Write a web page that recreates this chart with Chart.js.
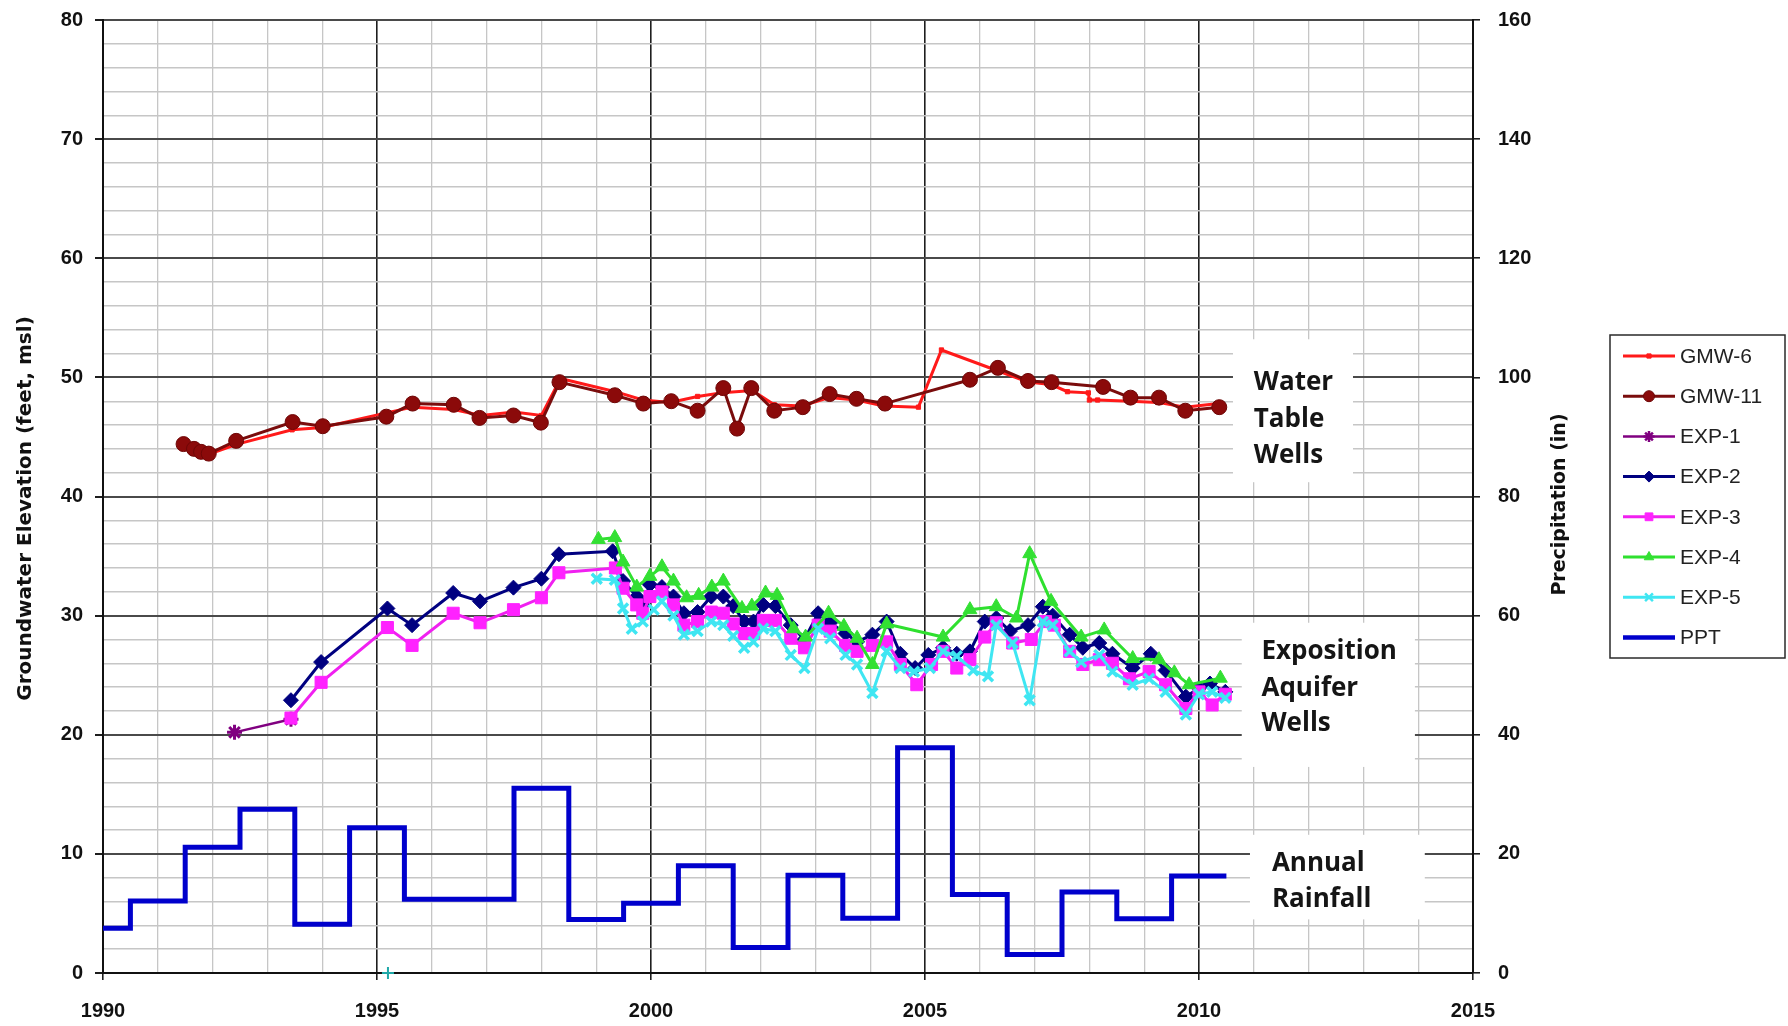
<!DOCTYPE html>
<html>
<head>
<meta charset="utf-8">
<script src="https://cdn.jsdelivr.net/npm/chart.js@4.4.1/dist/chart.umd.min.js"></script>
<style>
html,body{margin:0;padding:0;background:#ffffff;}
#wrap{width:1788px;height:1026px;position:relative;}
canvas{display:block;}
</style>
</head>
<body>
<div id="wrap"><canvas id="c" width="1788" height="1026"></canvas></div>
<script>
// ---------- DATA ----------
const gmw6Years = [1991.45,1991.7,1991.9,1992.45,1993.45,1994.0,1995.15,1995.65,1996.4,1996.9,1997.5,1998.0,1998.35,1999.35,1999.85,2000.35,2000.85,2001.3,2001.85,2002.25,2002.75,2003.25,2003.75,2004.25,2004.88,2005.3,2006.3,2006.88,2007.3,2007.6,2007.98,2008.0,2008.15,2008.75,2009.25,2009.75,2010.35];
const gmw6Levels = [44.2,43.9,43.5,44.4,45.6,45.8,47.0,47.5,47.3,46.8,47.1,46.8,49.9,48.8,48.1,47.9,48.4,48.7,48.9,47.7,47.6,48.3,48.1,47.6,47.5,52.3,50.6,49.6,49.4,48.8,48.7,48.1,48.1,48.0,47.9,47.5,47.8];

const gmw11Years = [1991.47,1991.66,1991.79,1991.93,1992.43,1993.46,1994.01,1995.17,1995.65,1996.4,1996.87,1997.49,1997.99,1998.33,1999.34,1999.86,2000.37,2000.85,2001.32,2001.57,2001.83,2002.25,2002.77,2003.26,2003.75,2004.27,2005.82,2006.33,2006.88,2007.31,2008.25,2008.75,2009.27,2009.75,2010.37];
const gmw11Levels = [44.4,44.0,43.75,43.6,44.67,46.25,45.9,46.7,47.8,47.7,46.6,46.8,46.2,49.6,48.5,47.8,48.0,47.2,49.1,45.7,49.1,47.2,47.5,48.6,48.2,47.8,49.8,50.8,49.7,49.6,49.2,48.3,48.3,47.2,47.5];

const exp1Years = [1992.4,1993.43];
const exp1Levels = [20.2,21.3];

const exp2Years = [1993.43,1993.98,1995.19,1995.64,1996.39,1996.88,1997.49,1998.0,1998.32,1999.3,1999.49,1999.74,1999.85,1999.98,2000.2,2000.41,2000.6,2000.85,2001.1,2001.32,2001.5,2001.7,2001.87,2002.05,2002.27,2002.55,2002.8,2003.05,2003.27,2003.55,2003.76,2004.04,2004.3,2004.55,2004.82,2005.06,2005.33,2005.58,2005.82,2006.09,2006.3,2006.55,2006.88,2007.15,2007.33,2007.64,2007.88,2008.18,2008.42,2008.79,2009.12,2009.39,2009.76,2010.0,2010.2,2010.48];
const exp2Levels = [22.9,26.1,30.6,29.2,31.9,31.2,32.35,33.1,35.15,35.4,32.9,31.6,30.9,32.6,32.4,31.6,30.2,30.3,31.6,31.6,30.8,29.5,29.5,30.9,30.8,29.2,28.0,30.2,29.4,28.5,27.8,28.4,29.5,26.8,25.6,26.7,27.3,26.8,27.0,29.5,29.8,28.7,29.2,30.75,30.0,28.4,27.3,27.7,26.8,25.6,26.8,25.4,23.2,23.9,24.3,23.6];

const exp3Years = [1993.43,1993.98,1995.19,1995.64,1996.39,1996.88,1997.49,1998.0,1998.32,1999.35,1999.49,1999.74,1999.85,1999.98,2000.2,2000.41,2000.6,2000.85,2001.1,2001.32,2001.5,2001.7,2001.87,2002.05,2002.27,2002.55,2002.8,2003.05,2003.27,2003.55,2003.76,2004.04,2004.3,2004.55,2004.85,2005.12,2005.33,2005.58,2005.82,2006.09,2006.3,2006.6,2006.94,2007.2,2007.36,2007.64,2007.88,2008.18,2008.42,2008.73,2009.09,2009.39,2009.76,2010.0,2010.24,2010.48];
const exp3Levels = [21.4,24.4,29.0,27.5,30.2,29.4,30.5,31.5,33.6,34.0,32.3,30.9,30.2,31.6,32.0,30.9,29.2,29.5,30.3,30.2,29.3,28.5,28.5,29.6,29.6,28.1,27.3,29.2,28.7,27.5,27.0,27.5,27.8,25.9,24.2,25.9,27.0,25.6,26.3,28.2,29.4,27.7,28.0,29.5,29.2,27.0,25.9,26.3,26.0,24.7,25.3,24.2,22.2,23.6,22.5,23.4];

const exp4Years = [1999.04,1999.34,1999.49,1999.74,1999.98,2000.2,2000.41,2000.65,2000.87,2001.11,2001.32,2001.66,2001.84,2002.09,2002.3,2002.6,2002.82,2003.24,2003.52,2003.76,2004.04,2004.3,2005.33,2005.82,2006.3,2006.67,2006.91,2007.3,2007.85,2008.27,2008.79,2009.27,2009.55,2009.82,2010.39];
const exp4Levels = [36.4,36.55,34.5,32.4,33.3,34.1,32.9,31.5,31.7,32.4,32.9,30.6,30.8,31.9,31.7,28.9,28.2,30.2,29.1,28.1,25.9,29.3,28.2,30.5,30.75,29.8,35.2,31.2,28.2,28.8,26.4,26.3,25.2,24.2,24.75];

const exp5Years = [1999.01,1999.34,1999.49,1999.65,1999.85,2000.05,2000.2,2000.41,2000.6,2000.85,2001.1,2001.32,2001.5,2001.7,2001.87,2002.05,2002.27,2002.55,2002.8,2003.05,2003.27,2003.55,2003.76,2004.04,2004.3,2004.55,2004.8,2005.09,2005.33,2005.58,2005.88,2006.15,2006.3,2006.6,2006.91,2007.15,2007.33,2007.64,2007.85,2008.18,2008.42,2008.79,2009.09,2009.39,2009.76,2010.0,2010.24,2010.48];
const exp5Levels = [33.1,33.0,30.6,28.9,29.5,30.5,31.2,30.0,28.4,28.7,29.5,29.2,28.3,27.3,27.8,28.9,28.7,26.7,25.6,28.9,28.1,26.7,25.9,23.5,27.0,25.6,25.3,25.6,27.0,26.6,25.4,24.9,29.2,27.7,22.9,29.5,29.2,27.0,26.1,26.7,25.3,24.2,24.7,23.6,21.7,23.4,23.6,23.1];

const strayYears = [1995.2];
const strayLevels = [0];

const pptYears = [1990,1991,1992,1993,1994,1995,1996,1997,1998,1999,2000,2001,2002,2003,2004,2005,2006,2007,2008,2009,2010];
const pptInches = [7.5,12.1,21.1,27.5,8.2,24.4,12.4,12.4,31.0,9.0,11.7,18.0,4.3,16.4,9.2,37.8,13.2,3.1,13.6,9.1,16.3];

const xTickLabels = [1990,1995,2000,2005,2010,2015];
const leftTickLabels = [0,10,20,30,40,50,60,70,80];
const rightTickLabels = [0,20,40,60,80,100,120,140,160];

const leftTitle = 'Groundwater Elevation (feet, msl)';
const rightTitle = 'Precipitation (in)';
const noteTexts = [['Water','Table','Wells'],['Exposition','Aquifer','Wells'],['Annual','Rainfall']];

// ---------- BUILD ----------
function pts(xs, ys){ return xs.map((x,i)=>({x:x, y:ys[i]})); }
const pptPoints = pts(pptYears, pptInches);
pptPoints.push({x: pptYears[pptYears.length-1] + 0.5, y: pptInches[pptInches.length-1]});

const TICK_FONT = {family:'"Liberation Sans", Arial, sans-serif', size:20, weight:'bold'};

function series(label, xs, ys, o){
  return Object.assign({
    label: label, data: pts(xs, ys), yAxisID:'y', tension:0, fill:false,
    showLine:true, pointHoverRadius:0
  }, o);
}

const datasets = [
  series('GMW-6', gmw6Years, gmw6Levels, {borderColor:'#ff1a1a', borderWidth:3, pointStyle:'rect', pointRadius:3, pointBackgroundColor:'#ff1a1a', pointBorderColor:'#ff1a1a', pointBorderWidth:1}),
  series('GMW-11', gmw11Years, gmw11Levels, {borderColor:'#7a0c0c', borderWidth:3, pointStyle:'circle', pointRadius:7.5, pointBackgroundColor:'#8b0a0a', pointBorderColor:'#6e0606', pointBorderWidth:1}),
  series('EXP-1', exp1Years, exp1Levels, {borderColor:'#800080', borderWidth:2.5, pointStyle:'star', pointRadius:7.5, pointBackgroundColor:'#800080', pointBorderColor:'#800080', pointBorderWidth:3}),
  series('EXP-2', exp2Years, exp2Levels, {borderColor:'#000080', borderWidth:3, pointStyle:'rectRot', pointRadius:7.5, pointBackgroundColor:'#000080', pointBorderColor:'#000080', pointBorderWidth:1}),
  series('EXP-3', exp3Years, exp3Levels, {borderColor:'#f020f0', borderWidth:3, pointStyle:'rect', pointRadius:8.5, pointBackgroundColor:'#ff22ff', pointBorderColor:'#ff22ff', pointBorderWidth:1}),
  series('EXP-4', exp4Years, exp4Levels, {borderColor:'#2fe02f', borderWidth:3, pointStyle:'triangle', pointRadius:8, pointBackgroundColor:'#33e033', pointBorderColor:'#33e033', pointBorderWidth:1}),
  series('EXP-5', exp5Years, exp5Levels, {borderColor:'#3fe6f2', borderWidth:3, pointStyle:'crossRot', pointRadius:7, pointBackgroundColor:'#3fe6f2', pointBorderColor:'#3fe6f2', pointBorderWidth:3.5}),
  {label:'PPT', data: pptPoints, yAxisID:'y2', showLine:true, stepped:'middle', borderColor:'#0000cc', borderWidth:5, pointRadius:0, pointHoverRadius:0, fill:false},
  {label:'', data: pts(strayYears, strayLevels), yAxisID:'y', showLine:false, clip:false, pointStyle:'cross', pointRadius:6, pointBorderColor:'#1fa8a8', pointBackgroundColor:'#1fa8a8', pointBorderWidth:2, legendSkip:true}
];
datasets.forEach((d,i)=>{ d.order = datasets.length - i; });

function drawMarker(ctx, style, r, x, y, bw){
  if (Chart.helpers && Chart.helpers.drawPoint){
    Chart.helpers.drawPoint(ctx, {pointStyle:style, radius:r, rotation:0, borderWidth:bw}, x, y);
  } else {
    ctx.beginPath(); ctx.arc(x,y,r,0,Math.PI*2); ctx.fill(); if(bw>0) ctx.stroke();
  }
}

// white note boxes + texts, drawn over the grid but under the data
const notesPlugin = {
  id:'notes',
  beforeDatasetsDraw(chart){
    const xs = chart.scales.x, ys = chart.scales.y, ctx = chart.ctx;
    const layout = [
      {box:[2010.62,53.2,2012.81,41.2], tx:2011.0, ty:[49.55,46.45,43.45]},
      {box:[2010.78,29.4,2013.94,17.3], tx:2011.14, ty:[26.95,23.85,20.9]},
      {box:[2010.93,11.6,2014.12,4.5], tx:2011.33, ty:[9.2,6.2]}
    ];
    ctx.save();
    layout.forEach((n, k)=>{
      const x0 = xs.getPixelForValue(n.box[0]), x1 = xs.getPixelForValue(n.box[2]);
      const y0 = ys.getPixelForValue(n.box[1]), y1 = ys.getPixelForValue(n.box[3]);
      ctx.fillStyle = '#ffffff';
      ctx.fillRect(x0, y0, x1-x0, y1-y0);
      ctx.fillStyle = '#151515';
      ctx.font = 'bold 26px "Open Sans", "DejaVu Sans", sans-serif';
      ctx.textAlign = 'left';
      ctx.textBaseline = 'middle';
      noteTexts[k].forEach((t, j)=>{
        ctx.fillText(t, xs.getPixelForValue(n.tx), ys.getPixelForValue(n.ty[j]));
      });
    });
    ctx.restore();
  }
};

// axis titles (both read bottom-to-top) and the boxed legend
const decorPlugin = {
  id:'decor',
  afterDraw(chart){
    const ctx = chart.ctx, ca = chart.chartArea;
    const midY = (ca.top + ca.bottom)/2;
    ctx.save();
    ctx.fillStyle = '#111111';
    ctx.textAlign = 'center';
    ctx.textBaseline = 'middle';
    ctx.font = 'bold 20px "DejaVu Sans", sans-serif';
    ctx.save(); ctx.translate(26, midY + 12); ctx.rotate(-Math.PI/2); ctx.fillText(leftTitle, 0, 0); ctx.restore();
    ctx.font = 'bold 19px "DejaVu Sans", sans-serif';
    ctx.save(); ctx.translate(ca.right + 87, midY + 8); ctx.rotate(-Math.PI/2); ctx.fillText(rightTitle, 0, 0); ctx.restore();

    // legend
    const lx = 1610, ly = 335, lw = 175, lh = 323;
    ctx.fillStyle = '#ffffff';
    ctx.fillRect(lx, ly, lw, lh);
    ctx.strokeStyle = '#2a2a2a';
    ctx.lineWidth = 1.5;
    ctx.strokeRect(lx, ly, lw, lh);
    const items = chart.data.datasets.filter(d => !d.legendSkip);
    items.forEach((d, i)=>{
      const cy = ly + 21 + i*40.2;
      ctx.strokeStyle = d.borderColor;
      ctx.lineWidth = Math.min(d.borderWidth, 4.5);
      ctx.beginPath(); ctx.moveTo(lx + 13, cy); ctx.lineTo(lx + 65, cy); ctx.stroke();
      if (d.pointRadius > 0){
        ctx.fillStyle = d.pointBackgroundColor;
        ctx.strokeStyle = d.pointBorderColor;
        ctx.lineWidth = Math.min(d.pointBorderWidth, 2.5);
        drawMarker(ctx, d.pointStyle, Math.min(d.pointRadius, 5.5), lx + 39, cy, d.pointBorderWidth);
      }
      ctx.fillStyle = '#222222';
      ctx.font = '21px "Liberation Sans", Arial, sans-serif';
      ctx.textAlign = 'left';
      ctx.textBaseline = 'middle';
      ctx.fillText(d.label, lx + 70, cy + 1);
    });
    ctx.restore();
  }
};

function trimPad(s){ s.paddingTop = 0; s.paddingBottom = 0; s.paddingLeft = 0; s.paddingRight = 0; }

new Chart(document.getElementById('c'), {
  type:'scatter',
  data:{datasets:datasets},
  plugins:[notesPlugin, decorPlugin],
  options:{
    responsive:false,
    devicePixelRatio:1,
    animation:false,
    events:[],
    layout:{padding:{left:0, right:188, top:20, bottom:0}},
    plugins:{legend:{display:false}, tooltip:{enabled:false}},
    scales:{
      x:{
        type:'linear', position:'bottom', min:1990, max:2015,
        ticks:{stepSize:1, autoSkip:false, maxRotation:0, font:TICK_FONT, color:'#111', padding:19,
          callback:(v)=> xTickLabels.includes(v) ? String(v) : ''},
        grid:{
          color:(c)=> (c.tick && c.tick.value % 5 === 0) ? '#1e1e1e' : '#c6c6c6',
          lineWidth:(c)=> (c.tick && c.tick.value % 5 === 0) ? 1.6 : 1.3,
          tickColor:(c)=> (c.tick && c.tick.value % 5 === 0) ? '#1e1e1e' : 'rgba(0,0,0,0)',
          tickLength:7
        },
        border:{color:'#111', width:2},
        afterFit:(s)=>{ s.height = 53; trimPad(s); }
      },
      y:{
        type:'linear', position:'left', min:0, max:80,
        ticks:{stepSize:2, autoSkip:false, font:TICK_FONT, color:'#111', padding:12,
          callback:(v)=> leftTickLabels.includes(v) ? String(v) : ''},
        grid:{
          color:(c)=> (c.tick && c.tick.value % 10 === 0) ? '#4a4a4a' : '#c6c6c6',
          lineWidth:(c)=> (c.tick && c.tick.value % 10 === 0) ? 2 : 1.4,
          tickColor:(c)=> (c.tick && c.tick.value % 10 === 0) ? '#1e1e1e' : 'rgba(0,0,0,0)',
          tickLength:8
        },
        border:{color:'#111', width:2},
        afterFit:(s)=>{ s.width = 103; trimPad(s); }
      },
      y2:{
        type:'linear', position:'right', min:0, max:160,
        ticks:{stepSize:20, autoSkip:false, font:TICK_FONT, color:'#111', padding:18,
          callback:(v)=> rightTickLabels.includes(v) ? String(v) : ''},
        grid:{drawOnChartArea:false, tickColor:'#1e1e1e', tickLength:7, lineWidth:1.6},
        border:{color:'#111', width:2},
        afterFit:(s)=>{ s.width = 127; trimPad(s); }
      }
    }
  }
});
</script>
</body>
</html>
